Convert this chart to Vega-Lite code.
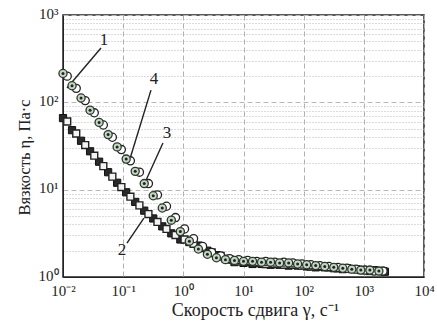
{
  "$schema": "https://vega.github.io/schema/vega-lite/v6.json",
  "width": 361,
  "height": 262,
  "autosize": {"type": "none"},
  "padding": {"left": 63, "top": 15, "right": 13, "bottom": 49},
  "background": "white",
  "config": {
    "view": {"stroke": "#222", "strokeWidth": 1.5},
    "font": "Liberation Serif",
    "axis": {"labelFont": "Liberation Serif", "titleFont": "Liberation Serif", "labelFontSize": 15, "titleFontSize": 16.5, "titleFontWeight": "normal", "labelColor": "#222", "titleColor": "#222", "ticks": false, "domainColor": "#222", "labelFlush": false, "labelOverlap": false}
  },
  "datasets": {
    "pts": [
      {"series": "4", "x": 0.01, "y": 213.8}, {"series": "4", "x": 0.01413, "y": 154.9}, {"series": "4", "x": 0.01995, "y": 112.2}, {"series": "4", "x": 0.02818, "y": 81.3}, {"series": "4", "x": 0.03981, "y": 58.9}, {"series": "4", "x": 0.05623, "y": 42.7}, {"series": "4", "x": 0.07943, "y": 30.9}, {"series": "4", "x": 0.1122, "y": 22.4}, {"series": "4", "x": 0.1585, "y": 16.2}, {"series": "4", "x": 0.2239, "y": 11.75}, {"series": "4", "x": 0.3162, "y": 8.51}, {"series": "4", "x": 0.4467, "y": 6.17}, {"series": "4", "x": 0.631, "y": 4.47}, {"series": "4", "x": 0.8913, "y": 3.31}, {"series": "4", "x": 1.259, "y": 2.57}, {"series": "4", "x": 1.778, "y": 2.09}, {"series": "4", "x": 2.512, "y": 1.82}, {"series": "4", "x": 3.548, "y": 1.66}, {"series": "4", "x": 5.012, "y": 1.58}, {"series": "4", "x": 7.079, "y": 1.55}, {"series": "4", "x": 10, "y": 1.51}, {"series": "4", "x": 14.13, "y": 1.51}, {"series": "4", "x": 19.95, "y": 1.48}, {"series": "4", "x": 28.18, "y": 1.48}, {"series": "4", "x": 39.81, "y": 1.45}, {"series": "4", "x": 56.23, "y": 1.45}, {"series": "4", "x": 79.43, "y": 1.41}, {"series": "4", "x": 112.2, "y": 1.38}, {"series": "4", "x": 158.5, "y": 1.35}, {"series": "4", "x": 223.9, "y": 1.32}, {"series": "4", "x": 316.2, "y": 1.29}, {"series": "4", "x": 446.7, "y": 1.26}, {"series": "4", "x": 631, "y": 1.23}, {"series": "4", "x": 891.3, "y": 1.2}, {"series": "4", "x": 1259, "y": 1.2}, {"series": "4", "x": 1778, "y": 1.17},
      {"series": "3", "x": 0.01175, "y": 199.5}, {"series": "3", "x": 0.0166, "y": 144.5}, {"series": "3", "x": 0.0234, "y": 104.7}, {"series": "3", "x": 0.0331, "y": 75.9}, {"series": "3", "x": 0.0468, "y": 55.0}, {"series": "3", "x": 0.0661, "y": 39.8}, {"series": "3", "x": 0.0933, "y": 28.8}, {"series": "3", "x": 0.1318, "y": 21.4}, {"series": "3", "x": 0.1862, "y": 15.85}, {"series": "3", "x": 0.263, "y": 11.75}, {"series": "3", "x": 0.3715, "y": 8.71}, {"series": "3", "x": 0.5248, "y": 6.46}, {"series": "3", "x": 0.7413, "y": 4.79}, {"series": "3", "x": 1.047, "y": 3.55}, {"series": "3", "x": 1.479, "y": 2.75}, {"series": "3", "x": 2.089, "y": 2.24}, {"series": "3", "x": 2.951, "y": 1.91}, {"series": "3", "x": 4.169, "y": 1.74}, {"series": "3", "x": 5.888, "y": 1.62}, {"series": "3", "x": 8.318, "y": 1.58}, {"series": "3", "x": 11.75, "y": 1.55}, {"series": "3", "x": 16.6, "y": 1.51}, {"series": "3", "x": 23.44, "y": 1.51}, {"series": "3", "x": 33.11, "y": 1.48}, {"series": "3", "x": 46.77, "y": 1.48}, {"series": "3", "x": 66.07, "y": 1.45}, {"series": "3", "x": 93.33, "y": 1.41}, {"series": "3", "x": 131.8, "y": 1.38}, {"series": "3", "x": 186.2, "y": 1.35}, {"series": "3", "x": 263, "y": 1.32}, {"series": "3", "x": 371.5, "y": 1.29}, {"series": "3", "x": 524.8, "y": 1.26}, {"series": "3", "x": 741.3, "y": 1.23}, {"series": "3", "x": 1047, "y": 1.2}, {"series": "3", "x": 1479, "y": 1.17}, {"series": "3", "x": 2089, "y": 1.17},
      {"series": "2", "x": 0.01, "y": 66.0}, {"series": "2", "x": 0.01413, "y": 48.0}, {"series": "2", "x": 0.01995, "y": 36.3}, {"series": "2", "x": 0.02818, "y": 27.5}, {"series": "2", "x": 0.03981, "y": 20.9}, {"series": "2", "x": 0.05623, "y": 15.85}, {"series": "2", "x": 0.07943, "y": 12.0}, {"series": "2", "x": 0.1122, "y": 9.33}, {"series": "2", "x": 0.1585, "y": 7.24}, {"series": "2", "x": 0.2239, "y": 5.75}, {"series": "2", "x": 0.3162, "y": 4.68}, {"series": "2", "x": 0.4467, "y": 3.8}, {"series": "2", "x": 0.631, "y": 3.16}, {"series": "2", "x": 0.8913, "y": 2.69}, {"series": "2", "x": 1.259, "y": 2.51}, {"series": "2", "x": 1.778, "y": 2.29}, {"series": "2", "x": 2.512, "y": 2.0}, {"series": "2", "x": 3.548, "y": 1.78}, {"series": "2", "x": 5.012, "y": 1.62}, {"series": "2", "x": 7.079, "y": 1.48}, {"series": "2", "x": 10, "y": 1.45}, {"series": "2", "x": 14.13, "y": 1.41}, {"series": "2", "x": 19.95, "y": 1.41}, {"series": "2", "x": 28.18, "y": 1.38}, {"series": "2", "x": 39.81, "y": 1.38}, {"series": "2", "x": 56.23, "y": 1.35}, {"series": "2", "x": 79.43, "y": 1.35}, {"series": "2", "x": 112.2, "y": 1.32}, {"series": "2", "x": 158.5, "y": 1.29}, {"series": "2", "x": 223.9, "y": 1.29}, {"series": "2", "x": 316.2, "y": 1.26}, {"series": "2", "x": 446.7, "y": 1.23}, {"series": "2", "x": 631, "y": 1.23}, {"series": "2", "x": 891.3, "y": 1.2}, {"series": "2", "x": 1259, "y": 1.17}, {"series": "2", "x": 1778, "y": 1.17}, {"series": "2", "x": 2239, "y": 1.15},
      {"series": "1", "x": 0.01175, "y": 60.3}, {"series": "1", "x": 0.0166, "y": 44.0}, {"series": "1", "x": 0.0234, "y": 32.4}, {"series": "1", "x": 0.0331, "y": 24.5}, {"series": "1", "x": 0.0468, "y": 18.6}, {"series": "1", "x": 0.0661, "y": 14.1}, {"series": "1", "x": 0.0933, "y": 10.7}, {"series": "1", "x": 0.1318, "y": 8.32}, {"series": "1", "x": 0.1862, "y": 6.61}, {"series": "1", "x": 0.263, "y": 5.25}, {"series": "1", "x": 0.3715, "y": 4.27}, {"series": "1", "x": 0.5248, "y": 3.55}, {"series": "1", "x": 0.7413, "y": 3.02}, {"series": "1", "x": 1.047, "y": 2.69}, {"series": "1", "x": 1.479, "y": 2.4}, {"series": "1", "x": 2.089, "y": 2.14}, {"series": "1", "x": 2.951, "y": 1.91}, {"series": "1", "x": 4.169, "y": 1.74}, {"series": "1", "x": 5.888, "y": 1.58}, {"series": "1", "x": 8.318, "y": 1.51}, {"series": "1", "x": 11.75, "y": 1.48}, {"series": "1", "x": 16.6, "y": 1.45}, {"series": "1", "x": 23.44, "y": 1.41}, {"series": "1", "x": 33.11, "y": 1.41}, {"series": "1", "x": 46.77, "y": 1.38}, {"series": "1", "x": 66.07, "y": 1.38}, {"series": "1", "x": 93.33, "y": 1.35}, {"series": "1", "x": 131.8, "y": 1.32}, {"series": "1", "x": 186.2, "y": 1.32}, {"series": "1", "x": 263, "y": 1.29}, {"series": "1", "x": 371.5, "y": 1.26}, {"series": "1", "x": 524.8, "y": 1.26}, {"series": "1", "x": 741.3, "y": 1.23}, {"series": "1", "x": 1047, "y": 1.2}, {"series": "1", "x": 1479, "y": 1.2}, {"series": "1", "x": 2089, "y": 1.17}
    ],
    "labels": [
      {"t": "1", "x": 0.048, "y": 518},
      {"t": "4", "x": 0.325, "y": 185},
      {"t": "3", "x": 0.535, "y": 44.5},
      {"t": "2", "x": 0.0955, "y": 2.03}
    ],
    "leaders": [
      {"x": 0.0428, "y": 419, "x2": 0.01166, "y2": 146},
      {"x": 0.29, "y": 138, "x2": 0.125, "y2": 20.7},
      {"x": 0.458, "y": 34.2, "x2": 0.221, "y2": 11.3},
      {"x": 0.1156, "y": 2.44, "x2": 0.221, "y2": 4.73}
    ]
  },
  "layer": [
    {
      "data": {"name": "leaders"},
      "mark": {"type": "rule", "color": "#222", "strokeWidth": 1.4},
      "encoding": {
        "x": {"field": "x", "type": "quantitative", "scale": {"type": "log", "domain": [0.01, 10000]},
          "axis": {"values": [0.01, 0.1, 1, 10, 100, 1000, 10000], "title": "Скорость сдвига γ, с⁻¹", "titleFontSize": 18, "titleX": 192, "titlePadding": 3, "labelPadding": 6, "gridColor": "#b0b0b0", "gridDash": [5, 3], "gridWidth": 1,
            "labelExpr": "datum.value == 0.01 ? '10⁻²' : datum.value == 0.1 ? '10⁻¹' : datum.value == 1 ? '10⁰' : datum.value == 10 ? '10¹' : datum.value == 100 ? '10²' : datum.value == 1000 ? '10³' : '10⁴'"}},
        "y": {"field": "y", "type": "quantitative", "scale": {"type": "log", "domain": [1, 1000]},
          "axis": {"values": [1, 2, 3, 4, 5, 6, 7, 8, 9, 10, 20, 30, 40, 50, 60, 70, 80, 90, 100, 200, 300, 400, 500, 600, 700, 800, 900, 1000], "title": "Вязкость η, Па·с", "titleY": 142, "titlePadding": 6, "labelPadding": 5, "labelBaseline": "bottom", "labelOffset": 6, "gridColor": "#b8b8b8", "gridWidth": 1,
            "gridDash": {"condition": {"test": "datum.value == 1 || datum.value == 10 || datum.value == 100 || datum.value == 1000", "value": [5, 3]}, "value": [1, 2]},
            "labelExpr": "datum.value == 1 ? '10⁰' : datum.value == 10 ? '10¹' : datum.value == 100 ? '10²' : datum.value == 1000 ? '10³' : ''"}},
        "x2": {"field": "x2"},
        "y2": {"field": "y2"}
      }
    },
    {
      "data": {"name": "pts"},
      "transform": [{"filter": "datum.series == '2'"}],
      "mark": {"type": "point", "shape": "square", "filled": true, "fill": "#2a2a2a", "stroke": "#111", "strokeWidth": 1, "size": 52, "opacity": 1},
      "encoding": {"x": {"field": "x", "type": "quantitative"}, "y": {"field": "y", "type": "quantitative"}}
    },
    {
      "data": {"name": "pts"},
      "transform": [{"filter": "datum.series == '1'"}],
      "mark": {"type": "point", "shape": "square", "filled": true, "fill": "#f4f4f4", "stroke": "#222", "strokeWidth": 1.4, "size": 48, "opacity": 1},
      "encoding": {"x": {"field": "x", "type": "quantitative"}, "y": {"field": "y", "type": "quantitative"}}
    },
    {
      "data": {"name": "pts"},
      "transform": [{"filter": "datum.series == '3'"}],
      "mark": {"type": "point", "shape": "circle", "filled": true, "fill": "white", "stroke": "#222", "strokeWidth": 1.3, "size": 66, "opacity": 1},
      "encoding": {"x": {"field": "x", "type": "quantitative"}, "y": {"field": "y", "type": "quantitative"}}
    },
    {
      "data": {"name": "pts"},
      "transform": [{"filter": "datum.series == '4'"}],
      "mark": {"type": "point", "shape": "circle", "filled": true, "fill": "#c9d4c9", "stroke": "#2a3a2a", "strokeWidth": 1.3, "size": 66, "opacity": 1},
      "encoding": {"x": {"field": "x", "type": "quantitative"}, "y": {"field": "y", "type": "quantitative"}}
    },
    {
      "data": {"name": "pts"},
      "transform": [{"filter": "datum.series == '4'"}],
      "mark": {"type": "point", "shape": "circle", "filled": true, "fill": "#1a2a1a", "size": 9, "opacity": 1},
      "encoding": {"x": {"field": "x", "type": "quantitative"}, "y": {"field": "y", "type": "quantitative"}}
    },
    {
      "data": {"name": "labels"},
      "mark": {"type": "text", "font": "Liberation Serif", "fontSize": 17, "color": "#222", "baseline": "middle", "align": "center"},
      "encoding": {"x": {"field": "x", "type": "quantitative"}, "y": {"field": "y", "type": "quantitative"}, "text": {"field": "t"}}
    }
  ]
}
